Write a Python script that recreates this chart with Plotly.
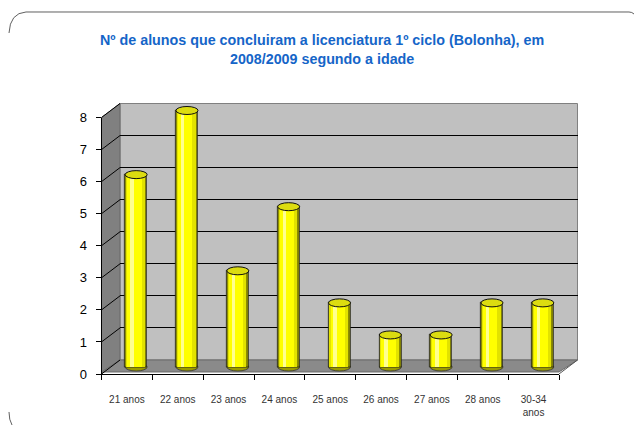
import plotly.graph_objects as go

# ---------------- data ----------------
categorias = ["21 anos", "22 anos", "23 anos", "24 anos", "25 anos",
              "26 anos", "27 anos", "28 anos", "30-34<br>anos"]
alunos = [6, 8, 3, 5, 2, 1, 1, 2, 2]
y_ticks = [0, 1, 2, 3, 4, 5, 6, 7, 8]
titulo = ("Nº de alunos que concluiram a licenciatura 1º ciclo (Bolonha), em"
          "<br>2008/2009 segundo a idade")

# ---------------- geometry (screen pixels) ----------------
OFF = 8                       # default page margin around the figure
W, H = 642 - 2 * OFF, 433 - 2 * OFF
def fx(px): return (px - OFF) / W
def fy(py): return 1 - (py - OFF) / H

FX0, FX1 = 101.5, 559.0      # front plane x extent
FY0, FYT = 374.0, 117.5      # front plane: value 0 / value max
DX, DY = 18.5, -14.0         # depth offset to back wall
YMAX = 8
unit = (FY0 - FYT) / YMAX
n = len(categorias)
xr = [-0.5, n - 0.5]
xs = list(range(n))

# mid plane (bars)
MX0, MX1 = FX0 + DX / 2, FX1 + DX / 2
MY0 = FY0 + DY / 2
pad = 0.5
mid_dom_y = [fy(MY0 + pad * unit), fy(MY0 - (YMAX + pad) * unit)]

FONT = "Liberation Sans, Arial"

fig = go.Figure()

# invisible helper traces so the front and wall subplots are built
for xa, ya in (("x", "y"), ("x2", "y2")):
    fig.add_trace(go.Scatter(x=xs, y=alunos, xaxis=xa, yaxis=ya, mode="markers",
                             marker=dict(opacity=0), hoverinfo="skip", showlegend=False))

# cylinder bodies as overlaid bars (shading layers)
layers = [
    (0.433, 0.0, "#8c8c00", 0.8),
    (0.37, -0.02, "#e2e200", 0),
    (0.28, -0.04, "#ffff00", 0),
    (0.07, -0.09, "#ffff90", 0),
]
for w, shift, col, lw in layers:
    fig.add_trace(go.Bar(
        x=xs, y=alunos, xaxis="x3", yaxis="y3",
        width=[w] * n, offset=[-w / 2 + shift] * n,
        marker=dict(color=col, line=dict(color="#222222", width=lw)),
        hoverinfo="skip", showlegend=False,
    ))

shapes = []
def path(points):
    return "M " + " L ".join(f"{fx(a):.5f},{fy(b):.5f}" for a, b in points) + " Z"

# back wall
shapes.append(dict(type="path", xref="paper", yref="paper",
                   path=path([(FX0 + DX, FY0 + DY), (FX0 + DX, FYT + DY),
                              (FX1 + DX, FYT + DY), (FX1 + DX, FY0 + DY)]),
                   fillcolor="#c0c0c0", line=dict(color="#808080", width=1), layer="below"))
# left side wall
shapes.append(dict(type="path", xref="paper", yref="paper",
                   path=path([(FX0, FY0), (FX0, FYT), (FX0 + DX, FYT + DY), (FX0 + DX, FY0 + DY)]),
                   fillcolor="#808080", line=dict(color="#6a6a6a", width=1), layer="below"))
# floor
shapes.append(dict(type="path", xref="paper", yref="paper",
                   path=path([(FX0, FY0 - 2), (FX0 + DX, FY0 + DY), (FX1 + DX, FY0 + DY), (FX1, FY0 - 2)]),
                   fillcolor="#8a8a8a", line=dict(color="#6a6a6a", width=1), layer="below"))
# diagonal connectors on the side wall
for v in y_ticks:
    yf = FY0 - v * unit
    shapes.append(dict(type="line", xref="paper", yref="paper",
                       x0=fx(FX0), y0=fy(yf), x1=fx(FX0 + DX), y1=fy(yf + DY),
                       line=dict(color="#000000", width=1), layer="below"))
# right floor edge
shapes.append(dict(type="line", xref="paper", yref="paper",
                   x0=fx(FX1 + DX), y0=fy(FY0 + DY), x1=fx(FX1), y1=fy(FY0),
                   line=dict(color="#555555", width=1), layer="below"))

# ellipses (top and base of each cylinder)
bw = 0.433
e = 4.0 / unit
for i, v in enumerate(alunos):
    shapes.append(dict(type="circle", xref="x3", yref="y3",
                       x0=i - bw / 2, x1=i + bw / 2, y0=-e, y1=e,
                       fillcolor="#9a9a00", line=dict(color="#333333", width=0.8),
                       layer="below"))
    shapes.append(dict(type="circle", xref="x3", yref="y3",
                       x0=i - bw / 2, x1=i + bw / 2, y0=v - e, y1=v + e,
                       fillcolor="#dcdc10", line=dict(color="#111111", width=1),
                       layer="above"))

# outer rounded border fragments
def P(a, b): return f"{fx(a):.5f},{fy(b):.5f}"
shapes.append(dict(type="path", xref="paper", yref="paper",
                   path=f"M {P(9,33)} Q {P(10,13)} {P(26,12)} L {P(629,12)} Q {P(632,12)} {P(634,14)}",
                   line=dict(color="#606060", width=1)))
shapes.append(dict(type="path", xref="paper", yref="paper",
                   path=f"M {P(9,412)} Q {P(9,420)} {P(12,425)}",
                   line=dict(color="#606060", width=1)))

fig.update_layout(
    width=W, height=H,
    margin=dict(l=0, r=0, t=0, b=0, autoexpand=False),
    paper_bgcolor="white", plot_bgcolor="rgba(0,0,0,0)",
    barmode="overlay", bargap=0,
    font=dict(family=FONT, color="#000000"),
    shapes=shapes,
    # front plane axes (visible labels)
    xaxis=dict(domain=[fx(FX0), fx(FX1)], anchor="y", range=xr, automargin=False,
               tickmode="array", tickvals=xs, ticktext=categorias,
               ticks="", showline=True, linecolor="#000000", linewidth=1,
               showgrid=False, zeroline=False, ticklabelstandoff=16,
               tickfont=dict(family=FONT, size=10, color="#333333"),
               minor=dict(tickmode="linear", tick0=-0.5, dtick=1, ticks="outside",
                          ticklen=5, tickcolor="#000000", showgrid=False)),
    yaxis=dict(domain=[fy(FY0), fy(FYT)], anchor="x", range=[0, YMAX], automargin=False,
               tickmode="array", tickvals=y_ticks, ticks="outside", ticklen=5,
               tickcolor="#000000", showline=True, linecolor="#000000",
               showgrid=False, zeroline=False, ticklabelstandoff=6,
               tickfont=dict(family=FONT, size=13, color="#000000")),
    # back wall axes (gridlines)
    xaxis2=dict(domain=[fx(FX0 + DX), fx(FX1 + DX)], anchor="y2", range=xr,
                automargin=False, showticklabels=False, ticks="", showgrid=False,
                zeroline=False, showline=False),
    yaxis2=dict(domain=[fy(FY0 + DY), fy(FYT + DY)], anchor="x2", range=[0, YMAX],
                automargin=False, tickmode="array", tickvals=y_ticks,
                showticklabels=False, ticks="", showgrid=True, gridcolor="#000000",
                gridwidth=1, zeroline=False, showline=False),
    # mid plane axes (bars)
    xaxis3=dict(domain=[fx(MX0), fx(MX1)], anchor="y3", range=xr, visible=False,
                automargin=False),
    yaxis3=dict(domain=mid_dom_y, anchor="x3", range=[-pad, YMAX + pad], visible=False,
                automargin=False),
    annotations=[dict(text="<b>" + titulo + "</b>", xref="paper", yref="paper",
                      x=fx(322), y=fy(49), xanchor="center", yanchor="middle",
                      showarrow=False,
                      font=dict(family=FONT, size=14.3, color="#1565c8"))],
)

fig.write_html("out.html", config={"displayModeBar": False})
